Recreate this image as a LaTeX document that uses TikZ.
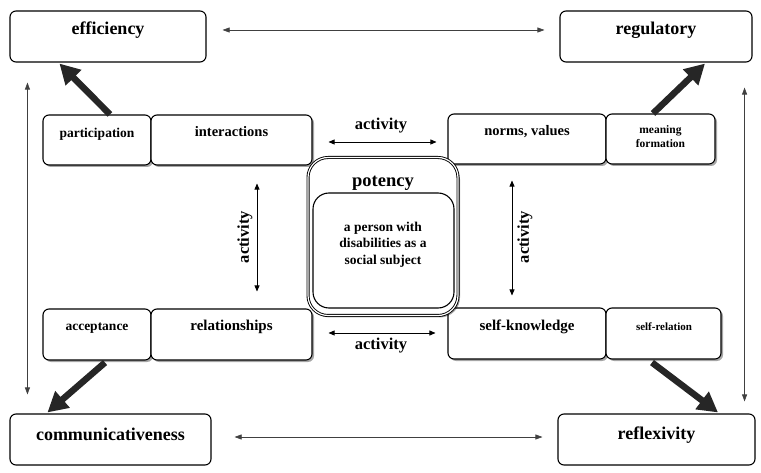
\documentclass[tikz,border=0pt]{standalone}
\usepackage{fontspec}
\setmainfont{Liberation Serif}
\usetikzlibrary{arrows.meta,shadows}
\begin{document}
\begin{tikzpicture}[x=1pt,y=-1pt,
  bigbox/.style={draw, line width=1.1pt, rounded corners=6pt, fill=white, inner sep=0pt},
  smallbox/.style={bigbox, drop shadow={shadow xshift=2pt, shadow yshift=-2pt, opacity=0.35, fill=black}},
  lbl/.style={font=\bfseries, inner sep=0pt, align=center},
  thin arrow/.style={draw=black!75, line width=0.6pt, {Triangle[length=7pt,width=5pt]}-{Triangle[length=7pt,width=5pt]}},
  act arrow/.style={draw=black, line width=0.7pt, {Triangle[length=6pt,width=5pt]}-{Triangle[length=6pt,width=5pt]}},
  fat arrow/.style={draw=black!85, fill=black!85, line width=6.5pt, -{Triangle[length=20pt,width=21pt]}}
]
\useasboundingbox (0,0) rectangle (761,473);

% corner boxes
\node[bigbox, minimum width=196pt, minimum height=51pt] (eff) at (108,36.5) {};
\node[bigbox, minimum width=192pt, minimum height=51pt] (reg) at (656,36.5) {};
\node[bigbox, minimum width=201pt, minimum height=51pt] (comm) at (110.5,439.5) {};
\node[bigbox, minimum width=197pt, minimum height=51pt] (refl) at (656.5,439.5) {};
\node[lbl, font=\bfseries\fontsize{18}{20}\selectfont] (efft) at (108,30) {efficiency};
\node[lbl, font=\bfseries\fontsize{18}{20}\selectfont] (regt) at (656,30) {regulatory};
\node[lbl, font=\bfseries\fontsize{18}{20}\selectfont] (commt) at (110.5,434) {communicativeness};
\node[lbl, font=\bfseries\fontsize{18}{20}\selectfont] (reflt) at (656.5,435) {reflexivity};

% inner boxes
\node[smallbox, minimum width=108pt, minimum height=50pt] (part) at (97,140) {};
\node[smallbox, minimum width=161pt, minimum height=50pt] (inter) at (231.5,140) {};
\node[smallbox, minimum width=158pt, minimum height=50pt] (norms) at (527,139) {};
\node[smallbox, minimum width=109pt, minimum height=50pt] (mean) at (660.5,139) {};
\node[smallbox, minimum width=108pt, minimum height=51pt] (acc) at (97,334.5) {};
\node[smallbox, minimum width=161pt, minimum height=51pt] (rel) at (231.5,334.5) {};
\node[smallbox, minimum width=158pt, minimum height=51pt] (selfk) at (527,333.5) {};
\node[smallbox, minimum width=115pt, minimum height=51pt] (selfr) at (663.5,333.5) {};

\node[lbl, font=\bfseries\fontsize{13.5}{15}\selectfont] (partt) at (97,134) {participation};
\node[lbl, font=\bfseries\fontsize{14.5}{16}\selectfont] (intert) at (231.5,132) {interactions};
\node[lbl, font=\bfseries\fontsize{14.5}{16}\selectfont] (normst) at (527,132) {norms, values};
\node[lbl, font=\bfseries\fontsize{11.5}{14}\selectfont] (meant) at (660.5,137) {meaning\\formation};
\node[lbl, font=\bfseries\fontsize{13.5}{15}\selectfont] (acct) at (97,328) {acceptance};
\node[lbl, font=\bfseries\fontsize{15}{17}\selectfont] (relt) at (231.5,327) {relationships};
\node[lbl, font=\bfseries\fontsize{15}{17}\selectfont] (selfkt) at (527,327) {self-knowledge};
\node[lbl, font=\bfseries\fontsize{11}{13}\selectfont] (selfrt) at (664,327) {self-relation};

% potency
\node[draw, line width=0.9pt, double=white, double distance=1.2pt, rounded corners=20pt, fill=white,
      minimum width=150pt, minimum height=158pt, inner sep=0pt,
      drop shadow={shadow xshift=2pt, shadow yshift=-2pt, opacity=0.35, fill=black}] (pot) at (383,236.5) {};
\node[draw, line width=1.1pt, rounded corners=16pt, fill=white, minimum width=141pt, minimum height=115pt, inner sep=0pt] (pin) at (383.5,250.5) {};
\node[lbl, font=\bfseries\fontsize{18.5}{20}\selectfont] (pott) at (383,183) {potency};
\node[lbl, font=\bfseries\fontsize{13.5}{16.5}\selectfont] (pint) at (383,244.5) {a person with\\disabilities as a\\social subject};

% thin arrows between corner boxes
\draw[thin arrow] ([shift={(16,-6.5)}]eff.east) -- ([shift={(-15,-6.5)}]reg.west);
\draw[thin arrow] ([shift={(23,-2.5)}]comm.east) -- ([shift={(-15,-2.5)}]refl.west);
\draw[thin arrow] ([shift={(18,20)}]eff.south west) -- ([shift={(18,-19)}]comm.north west);
\draw[thin arrow] ([shift={(-8,25)}]reg.south east) -- ([shift={(-11,-12)}]refl.north east);

% activity arrows
\draw[act arrow] ([shift={(16,2)}]inter.east) -- ([shift={(-11,3)}]norms.west);
\draw[act arrow] ([shift={(16,-1.5)}]rel.east) -- ([shift={(-12,-0.5)}]selfk.west);
\draw[act arrow] ([shift={(25.5,18)}]inter.south) -- ([shift={(25.5,-17)}]rel.north);
\draw[act arrow] ([shift={(-15,16)}]norms.south) -- ([shift={(-15,-12)}]selfk.north);
\node[lbl, font=\bfseries\fontsize{16.5}{18}\selectfont] (a1) at (381,126) {activity};
\node[lbl, font=\bfseries\fontsize{16.5}{18}\selectfont] (a2) at (381,346) {activity};
\node[lbl, font=\bfseries\fontsize{16.5}{18}\selectfont, rotate=90] (a3) at (245,237) {activity};
\node[lbl, font=\bfseries\fontsize{16.5}{18}\selectfont, rotate=90] (a4) at (525,237) {activity};

% thick arrows
\draw[fat arrow] ([shift={(13,0)}]part.north) -- ([shift={(50,1)}]eff.south west);
\draw[fat arrow] ([shift={(-7.5,0)}]mean.north) -- ([shift={(49,1)}]reg.south);
\draw[fat arrow] ([shift={(8,2)}]acc.south) -- ([shift={(38,-1)}]comm.north west);
\draw[fat arrow] ([shift={(-11.5,3)}]selfr.south) -- ([shift={(61.5,-1)}]refl.north);
\end{tikzpicture}
\end{document}
